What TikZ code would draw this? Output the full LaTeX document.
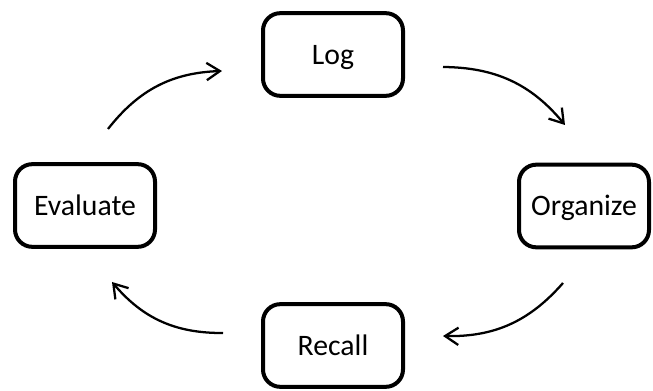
\documentclass[tikz,border=0pt]{standalone}
\usepackage{fontspec}
\setmainfont{Carlito}
\usetikzlibrary{arrows.meta}
\begin{document}
\begin{tikzpicture}[x=0.75pt,y=-0.75pt,
  stagebox/.style={draw=black, line width=3pt, rounded corners=13pt,
    minimum width=105pt, minimum height=62pt, inner sep=0pt,
    font=\fontsize{22.3pt}{26pt}\selectfont, text height=14.3pt, text depth=0pt},
  cyclearrow/.style={line width=1.7pt, bend left=25,
    -{Straight Barb[length=10pt,width=13pt,line width=1.7pt]}}]
\useasboundingbox (0,0) rectangle (653,391);
\node[stagebox] (log) at (333,54.5) {Log};
\node[stagebox, minimum width=97.5pt] (org) at (584,206) {Organize};
\node[stagebox] (rec) at (333,345.5) {Recall};
\node[stagebox] (eva) at (85,205.5) {Evaluate};
\coordinate (a1s) at (108,129); \coordinate (a1e) at (222,71);
\coordinate (a2s) at (443,67);  \coordinate (a2e) at (565,125);
\coordinate (a3s) at (563,283); \coordinate (a3e) at (443,336);
\coordinate (a4s) at (223,333); \coordinate (a4e) at (112,282);
\draw[cyclearrow] (a1s) to (a1e);
\draw[cyclearrow] (a2s) to (a2e);
\draw[cyclearrow] (a3s) to (a3e);
\draw[cyclearrow] (a4s) to (a4e);
\end{tikzpicture}
\end{document}
